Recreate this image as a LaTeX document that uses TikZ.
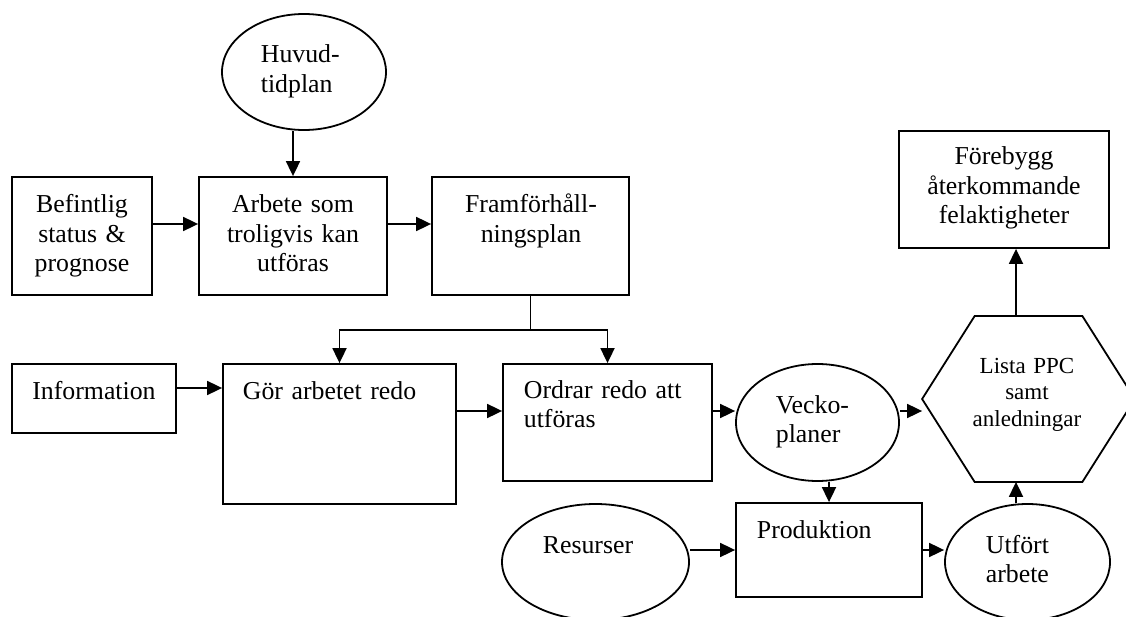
\documentclass[tikz,border=0pt]{standalone}
\usepackage{fontspec}
\setmainfont{Liberation Serif}
\usetikzlibrary{arrows.meta,shapes.geometric}

\begin{document}
\begin{tikzpicture}[x=1pt,y=-1pt,line width=1.8pt,
  box/.style={draw,rectangle,inner sep=0pt},
  oval/.style={draw,ellipse,inner sep=0pt},
  lbl/.style={inner sep=0pt,text width=220pt,font=\fontsize{25.8}{29.5}\selectfont},
  lblsmall/.style={inner sep=0pt,text width=220pt,font=\fontsize{23}{26.5}\selectfont},
  arr/.style={-{Triangle[length=15pt,width=14pt]}}]

\useasboundingbox (0,0) rectangle (1126,617);

% shapes
\node[oval,minimum width=164pt,minimum height=116pt] (huvud) at (304,72) {};
\node[box,minimum width=140pt,minimum height=118pt] (bef)  at (82,236) {};
\node[box,minimum width=188pt,minimum height=118pt] (arb)  at (293,236) {};
\node[box,minimum width=197pt,minimum height=118pt] (fram) at (530.5,236) {};
\node[box,minimum width=210pt,minimum height=117pt] (fore) at (1004,189.5) {};
\node[box,minimum width=164pt,minimum height=69pt]  (info) at (94,398.5) {};
\node[box,minimum width=233pt,minimum height=140pt] (gor)  at (339.5,434) {};
\node[box,minimum width=209pt,minimum height=117pt] (ord)  at (607.5,422.5) {};
\node[oval,minimum width=163pt,minimum height=117pt] (vecko) at (817.5,422.5) {};
\node[box,minimum width=186pt,minimum height=94pt]  (prod) at (829,550) {};
\node[oval,minimum width=187pt,minimum height=116pt] (res) at (595.5,562) {};
\node[oval,minimum width=165pt,minimum height=116pt] (utf) at (1027.5,562) {};
\node[minimum width=211pt,minimum height=164pt,inner sep=0pt] (hex) at (1028.5,399) {};
\draw (hex.west) -- ([xshift=52.5pt]hex.north west) -- ([xshift=-52.5pt]hex.north east)
  -- (hex.east) -- ([xshift=-52.5pt]hex.south east) -- ([xshift=52.5pt]hex.south west) -- cycle;

% labels
\node[lbl,anchor=base west,align=left] (thuvud) at (260,63) {Huvud-\\tidplan};
\node[lbl,anchor=base,align=center] (tbef) at (82,213) {Befintlig\\status \&\\prognose};
\node[lbl,anchor=base,align=center] (tarb) at (293,213) {Arbete som\\troligvis kan\\utföras};
\node[lbl,anchor=base,align=center] (tfram) at (531,213) {Framförhåll-\\ningsplan};
\node[lbl,anchor=base,align=center] (tfore) at (1004,165) {Förebygg\\återkommande\\felaktigheter};
\node[lbl,anchor=base,align=center] (tinfo) at (94,399) {Information};
\node[lbl,anchor=base west,align=left] (tgor) at (242,399) {Gör arbetet redo};
\node[lbl,anchor=base west,align=left] (tord) at (523,398) {Ordrar redo att\\utföras};
\node[lbl,anchor=base west,align=left] (tvecko) at (775,413) {Vecko-\\planer};
\node[lblsmall,anchor=base,align=center] (thex) at (1027,373) {Lista PPC\\samt\\anledningar};
\node[lbl,anchor=base,align=center] (tres) at (588,553) {Resurser};
\node[lbl,anchor=base west,align=left] (tprod) at (756,538) {Produktion};
\node[lbl,anchor=base west,align=left] (tutf) at (985,553) {Utfört\\arbete};

% connectors
\draw[arr] (huvud.south -| arb.north) -- (arb.north);
\draw[arr] ([yshift=12pt]bef.east) -- ([yshift=12pt]arb.west);
\draw[arr] ([yshift=12pt]arb.east) -- ([yshift=12pt]fram.west);
\path (fram.south) ++(0,34) coordinate (split);
\draw (fram.south) -- (split);
\draw[arr] (split) -| (gor.north);
\draw[arr] (split) -| (ord.north);
\draw[arr] ([yshift=10.5pt]info.east) -- ([yshift=10.5pt]info.east -| gor.west);
\draw[arr] ([yshift=23pt]gor.east) -- ([yshift=23pt]gor.east -| ord.west);
\draw[arr] ([yshift=11.5pt]ord.east) -- ([yshift=11.5pt]ord.east -| vecko.west);
\draw[arr] ([yshift=11.5pt]vecko.east) -- ([yshift=11.5pt]vecko.east -| hex.west);
\draw[arr] (vecko.south -| prod.north) -- (prod.north);
\draw[arr] (prod.west -| res.east) -- (prod.west);
\draw[arr] (prod.east) -- (prod.east -| utf.west);
\draw[arr] ([xshift=-12.5pt]hex.south |- utf.north) -- ([xshift=-12.5pt]hex.south);
\draw[arr] ([xshift=-12.5pt]hex.north) -- ([xshift=-12.5pt]hex.north |- fore.south);
\end{tikzpicture}
\end{document}
